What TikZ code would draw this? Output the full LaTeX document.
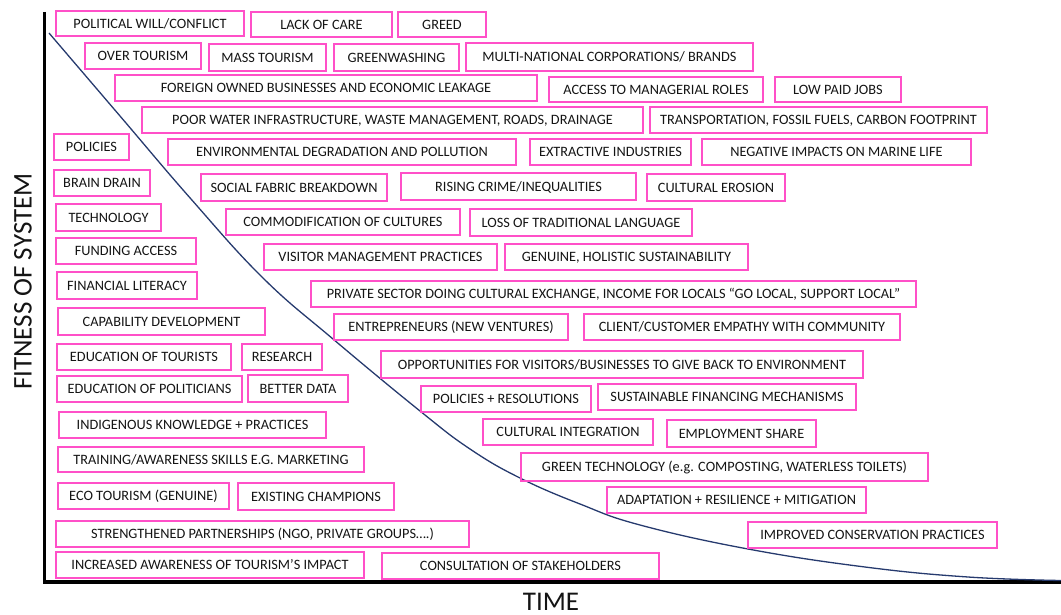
\documentclass[tikz,border=0pt]{standalone}
\usepackage{fontspec}
\setmainfont{Carlito}

\definecolor{boxpink}{RGB}{255,80,200}
\definecolor{curveblue}{RGB}{38,58,110}
\definecolor{ink}{RGB}{20,20,20}

\tikzset{
  factor/.style={draw=boxpink, line width=1.8pt, inner sep=0pt, text=ink,
    font=\fontsize{14.3}{16}\selectfont, text height=9.2pt, text depth=0pt},
  axisline/.style={line width=3.5pt, black, line join=miter},
  decay/.style={curveblue, line width=1.3pt},
  axislabel/.style={font=\fontsize{27}{30}\selectfont, text=ink, inner sep=0pt}
}

% \factorbox{name}{x1}{y1}{x2}{y2}{text}: box given by its corners
\newcommand\factorbox[6]{%
  \node[factor, minimum width={(#4-#2)*1pt}, minimum height={(#5-#3)*1pt}]
    (#1) at ({(#2+#4)/2},{(#3+#5)/2}) {#6};}

\begin{document}
\begin{tikzpicture}[x=1pt, y=-1pt]
\useasboundingbox (0,0) rectangle (1061,615);

% axes
\coordinate (ytop) at (44.5,12);
\coordinate (origin) at (44.5,582);
\coordinate (xend) at (1061,582);
\draw[axisline] (ytop) -- (origin) -- (xend);

% fitness curve over time
\draw[decay] plot[smooth, tension=0.7] coordinates {
  (49,33) (120,116) (191,199) (263,278) (333,339) (420,411) (470,449)
  (520,478) (580,504) (640,525) (748,549) (865,567) (968,577) (1061,580.5)};

% axis labels
\node[axislabel, rotate=90] (ylabel) at (23,281.6) {FITNESS OF SYSTEM};
\node[axislabel] (xlabel) at (551,601.5) {TIME};

% factors
\factorbox{pol}{56}{11}{244}{36}{POLITICAL WILL/CONFLICT}
\factorbox{lack}{251}{12}{392}{37}{LACK OF CARE}
\factorbox{greed}{398}{12}{486}{37}{GREED}
\factorbox{over}{85}{43}{201}{69}{OVER TOURISM}
\factorbox{mass}{209}{44}{326}{71}{MASS TOURISM}
\factorbox{greenw}{334}{44}{459}{71}{GREENWASHING}
\factorbox{multi}{466}{43}{753}{71}{MULTI-NATIONAL CORPORATIONS/ BRANDS}
\factorbox{foreign}{115}{75}{537}{101}{FOREIGN OWNED BUSINESSES AND ECONOMIC LEAKAGE}
\factorbox{access}{549}{77}{763}{102}{ACCESS TO MANAGERIAL ROLES}
\factorbox{lowpaid}{775}{77}{901}{102}{LOW PAID JOBS}
\factorbox{water}{142}{107}{643}{133}{POOR WATER INFRASTRUCTURE, WASTE MANAGEMENT, ROADS, DRAINAGE}
\factorbox{transp}{650}{107}{987}{133}{TRANSPORTATION, FOSSIL FUELS, CARBON FOOTPRINT}
\factorbox{policies}{54}{134}{129}{160}{POLICIES}
\factorbox{envdeg}{168}{139}{516}{165}{ENVIRONMENTAL DEGRADATION AND POLLUTION}
\factorbox{extract}{530}{139}{691}{165}{EXTRACTIVE INDUSTRIES}
\factorbox{marine}{702}{139}{971}{165}{NEGATIVE IMPACTS ON MARINE LIFE}
\factorbox{brain}{54}{170}{150}{196}{BRAIN DRAIN}
\factorbox{social}{201}{174}{387}{201}{SOCIAL FABRIC BREAKDOWN}
\factorbox{crime}{401}{173}{636}{200}{RISING CRIME/INEQUALITIES}
\factorbox{erosion}{647}{174}{785}{201}{CULTURAL EROSION}
\factorbox{tech}{56}{204}{161}{231}{TECHNOLOGY}
\factorbox{commod}{226}{209}{460}{235}{COMMODIFICATION OF CULTURES}
\factorbox{lang}{470}{209}{692}{236}{LOSS OF TRADITIONAL LANGUAGE}
\factorbox{funding}{56}{238}{196}{264}{FUNDING ACCESS}
\factorbox{visitor}{264}{244}{497}{270}{VISITOR MANAGEMENT PRACTICES}
\factorbox{genuine}{505}{244}{748}{270}{GENUINE, HOLISTIC SUSTAINABILITY}
\factorbox{finlit}{57}{272}{197}{299}{FINANCIAL LITERACY}
\factorbox{private}{311}{281}{916}{307}{PRIVATE SECTOR DOING CULTURAL EXCHANGE, INCOME FOR LOCALS “GO LOCAL, SUPPORT LOCAL”}
\factorbox{capab}{58}{308}{265}{335}{CAPABILITY DEVELOPMENT}
\factorbox{entre}{334}{314}{568}{340}{ENTREPRENEURS (NEW VENTURES)}
\factorbox{client}{584}{314}{900}{340}{CLIENT/CUSTOMER EMPATHY WITH COMMUNITY}
\factorbox{edutour}{57}{344}{231}{370}{EDUCATION OF TOURISTS}
\factorbox{research}{242}{344}{322}{370}{RESEARCH}
\factorbox{opport}{381}{351}{863}{378}{OPPORTUNITIES FOR VISITORS/BUSINESSES TO GIVE BACK TO ENVIRONMENT}
\factorbox{edupol}{57}{376}{242}{402}{EDUCATION OF POLITICIANS}
\factorbox{better}{248}{375}{348}{402}{BETTER DATA}
\factorbox{polres}{421}{386}{591}{412}{POLICIES + RESOLUTIONS}
\factorbox{susfin}{598}{384}{856}{410}{SUSTAINABLE FINANCING MECHANISMS}
\factorbox{indig}{59}{412}{326}{438}{INDIGENOUS KNOWLEDGE + PRACTICES}
\factorbox{culint}{483}{419}{653}{445}{CULTURAL INTEGRATION}
\factorbox{employ}{667}{420}{816}{447}{EMPLOYMENT SHARE}
\factorbox{training}{58}{447}{364}{472}{TRAINING/AWARENESS SKILLS E.G. MARKETING}
\factorbox{greentech}{521}{453}{928}{481}{GREEN TECHNOLOGY (e.g. COMPOSTING, WATERLESS TOILETS)}
\factorbox{eco}{58}{483}{229}{509}{ECO TOURISM (GENUINE)}
\factorbox{champ}{238}{483}{394}{510}{EXISTING CHAMPIONS}
\factorbox{adapt}{607}{487}{866}{513}{ADAPTATION + RESILIENCE + MITIGATION}
\factorbox{strength}{56}{521}{469}{547}{STRENGTHENED PARTNERSHIPS (NGO, PRIVATE GROUPS….)}
\factorbox{conserv}{748}{522}{997}{548}{IMPROVED CONSERVATION PRACTICES}
\factorbox{aware}{56}{552}{364}{578}{INCREASED AWARENESS OF TOURISM’S IMPACT}
\factorbox{consult}{382}{553}{659}{579}{CONSULTATION OF STAKEHOLDERS}
\end{tikzpicture}
\end{document}
